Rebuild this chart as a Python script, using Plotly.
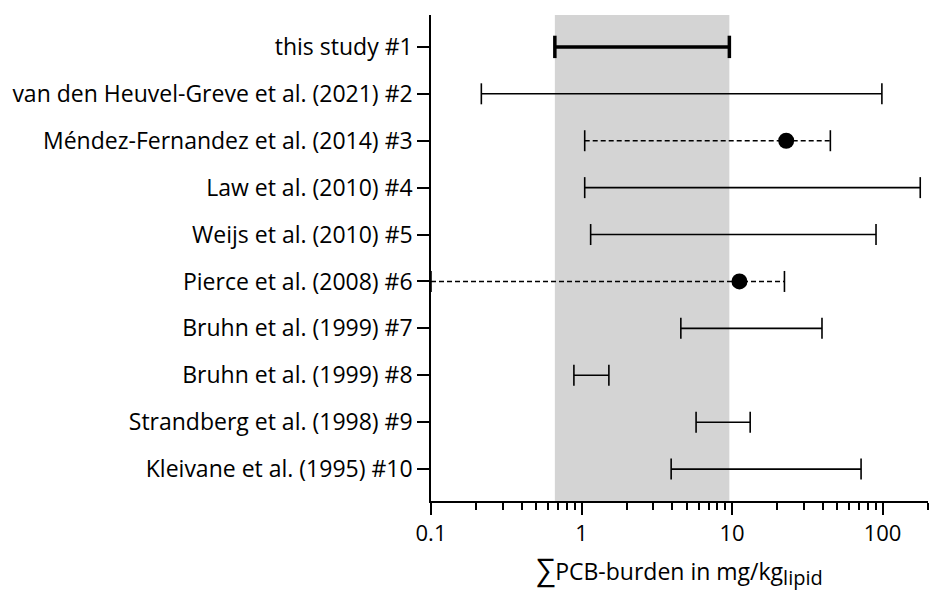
import plotly.graph_objects as go

studies = [
    "this study #1",
    "van den Heuvel-Greve et al. (2021) #2",
    "Méndez-Fernandez et al. (2014) #3",
    "Law et al. (2010) #4",
    "Weijs et al. (2010) #5",
    "Pierce et al. (2008) #6",
    "Bruhn et al. (1999) #7",
    "Bruhn et al. (1999) #8",
    "Strandberg et al. (1998) #9",
    "Kleivane et al. (1995) #10",
]
range_low = [0.665, 0.216, 1.05, 1.05, 1.15, 0.1, 4.57, 0.89, 5.77, 3.94]
range_high = [9.6, 99, 45, 178, 90.5, 22.3, 39.6, 1.52, 13.2, 72]
point_value = [None, None, 22.9, None, None, 11.2, None, None, None, None]
dashed = [False, False, True, False, False, True, False, False, False, False]
thick = [True, False, False, False, False, False, False, False, False, False]

major_ticks = [0.1, 1, 10, 100]
major_labels = ["0.1", "1", "10", "100"]
minor_ticks = [m * d for d in (0.1, 1, 10) for m in range(2, 10)] + [200]

rows = list(range(1, len(studies) + 1))
FONT = "Open Sans"

fig = go.Figure()

# grey band = range of this study
fig.add_trace(go.Scatter(
    x=[range_low[0], range_high[0], range_high[0], range_low[0], range_low[0]],
    y=[0, 0, 11, 11, 0],
    mode="lines", fill="toself", fillcolor="#d4d4d4",
    line=dict(width=0, color="#d4d4d4"), hoverinfo="skip", showlegend=False,
))

for i, r in enumerate(rows):
    w = 3.5 if thick[i] else 1.6
    fig.add_trace(go.Scatter(
        x=[range_low[i], range_high[i]], y=[r, r],
        mode="lines+markers",
        line=dict(color="black", width=w, dash="5px,3px" if dashed[i] else "solid"),
        marker=dict(symbol="line-ns", size=16 if thick[i] else 15,
                    line=dict(width=w, color="black"), color="black"),
        showlegend=False,
    ))
    if point_value[i] is not None:
        fig.add_trace(go.Scatter(
            x=[point_value[i]], y=[r], mode="markers",
            marker=dict(symbol="circle", size=16, color="black"),
            showlegend=False,
        ))

fig.update_layout(
    width=929, height=591, autosize=False,
    margin=dict(l=431, r=1, t=15, b=90),
    plot_bgcolor="white", paper_bgcolor="white",
    font=dict(family=FONT, size=19, color="black"),
    xaxis=dict(
        type="log", range=[-1, 2.302],
        tickvals=major_ticks, ticktext=major_labels,
        ticks="outside", ticklen=12, tickwidth=1.5, tickcolor="black",
        minor=dict(tickvals=minor_ticks, ticks="outside", ticklen=7, tickwidth=1.5,
                   tickcolor="black", showgrid=False),
        showline=True, linecolor="black", linewidth=1.5,
        showgrid=False, zeroline=False,
        tickfont=dict(size=22),
        title=dict(text="<span style='font-size:30px'>∑</span>PCB-burden in mg/kg"
                        "<sub><span style='font-size:20px'>lipid</span></sub>",
                   font=dict(size=23), standoff=18),
    ),
    yaxis=dict(
        range=[10.68, 0.32],
        tickvals=rows, ticktext=studies,
        ticks="outside", ticklen=12, tickwidth=1.5, tickcolor="black",
        showline=True, linecolor="black", linewidth=1.5,
        showgrid=False, zeroline=False,
        tickfont=dict(size=23),
    ),
)

fig.write_html("out.html")
